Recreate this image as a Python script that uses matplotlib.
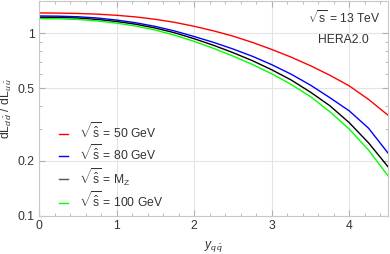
import numpy as np
import matplotlib
matplotlib.use("Agg")
import matplotlib.pyplot as plt
from matplotlib.ticker import MultipleLocator, LogLocator, FixedLocator, NullFormatter

plt.rcParams['font.family'] = ['Liberation Sans', 'DejaVu Sans']
plt.rcParams['mathtext.fontset'] = 'custom'
plt.rcParams['mathtext.rm'] = 'Liberation Sans'
plt.rcParams['mathtext.it'] = 'Liberation Sans:italic'
plt.rcParams['mathtext.bf'] = 'Liberation Sans:bold'

y_qq = [0.0, 0.25, 0.5, 0.75, 1.0, 1.25, 1.5, 1.75, 2.0, 2.25, 2.5, 2.75,
        3.0, 3.25, 3.5, 3.75, 4.0, 4.25, 4.5]

ratio_50 = [1.291, 1.288, 1.282, 1.271, 1.253, 1.227, 1.191, 1.146, 1.091, 1.030,
            0.964, 0.891, 0.815, 0.740, 0.664, 0.589, 0.515, 0.434, 0.356]
ratio_80 = [1.242, 1.239, 1.230, 1.211, 1.180, 1.140, 1.089, 1.028, 0.959, 0.891,
            0.820, 0.748, 0.673, 0.597, 0.520, 0.444, 0.376, 0.302, 0.221]
ratio_mz = [1.222, 1.219, 1.211, 1.189, 1.159, 1.119, 1.067, 1.005, 0.933, 0.859,
            0.783, 0.708, 0.631, 0.555, 0.476, 0.401, 0.324, 0.251, 0.186]
ratio_100 = [1.202, 1.199, 1.189, 1.167, 1.135, 1.094, 1.040, 0.975, 0.902, 0.826,
             0.750, 0.675, 0.600, 0.525, 0.450, 0.372, 0.299, 0.229, 0.166]

labels = [r'$\sqrt{\hat{\mathrm{s}}}$ = 50 GeV', r'$\sqrt{\hat{\mathrm{s}}}$ = 80 GeV',
          r'$\sqrt{\hat{\mathrm{s}}}$ = M$_\mathrm{Z}$', r'$\sqrt{\hat{\mathrm{s}}}$ = 100 GeV']
colors = ['#ff0000', '#0000ff', '#000000', '#00ff00']
legend_colors = ['#ff0000', '#0000ff', '#555555', '#00ff00']

FS = 8.7

fig = plt.figure(figsize=(3.9, 2.54), dpi=100)
ax = fig.add_axes([39/390, 1 - 216/254, (388-39)/390, (216-1)/254])

series = [ratio_50, ratio_80, ratio_mz, ratio_100]
for s, c in zip(series, colors):
    ax.plot(y_qq, s, color=c, lw=1.0)

ax.set_yscale('log')
ax.set_xlim(0, 4.5)
ax.set_ylim(0.1, 1.5)
ax.yaxis.set_major_locator(FixedLocator([0.1, 0.2, 0.5, 1]))
ax.set_yticklabels(['0.1', '0.2', '0.5', '1'])
ax.yaxis.set_minor_locator(LogLocator(base=10, subs=np.arange(2, 10)))
ax.yaxis.set_minor_formatter(NullFormatter())
ax.xaxis.set_major_locator(MultipleLocator(1))
ax.xaxis.set_minor_locator(MultipleLocator(0.2))

ax.grid(True, which='major', color='#e4e4e4', lw=0.8)
ax.set_axisbelow(True)
for sp in ax.spines.values():
    sp.set_color('#c8c8c8')
    sp.set_linewidth(0.8)
ax.tick_params(which='both', direction='in', top=True, right=True, color='#b0b0b0',
               labelsize=FS, labelcolor='#333333')
ax.tick_params(which='major', length=4, pad=3)
ax.tick_params(which='minor', length=2)

ax.set_ylabel(r'dL$_{d\,\bar{d}}$ / dL$_{u\,\bar{u}}$', fontsize=FS, color='#333333', labelpad=3)
ax.set_xlabel(r'$y_{q\,\bar{q}}$', fontsize=FS, color='#333333', labelpad=5)

handles = [plt.Line2D([], [], color=c, lw=1.0) for c in legend_colors]
leg = ax.legend(handles, labels, loc='upper left', bbox_to_anchor=(0.025, 0.49),
                frameon=False, fontsize=FS, handlelength=0.8, handletextpad=0.9,
                labelspacing=0.2, labelcolor='#333333')

ax.text(0.98, 0.96, r'$\sqrt{\mathrm{s}}$ = 13 TeV', transform=ax.transAxes,
        ha='right', va='top', fontsize=FS, color='#333333')
ax.text(0.945, 0.845, 'HERA2.0', transform=ax.transAxes,
        ha='right', va='top', fontsize=FS, color='#333333')

fig.savefig('out.png', dpi=100)
